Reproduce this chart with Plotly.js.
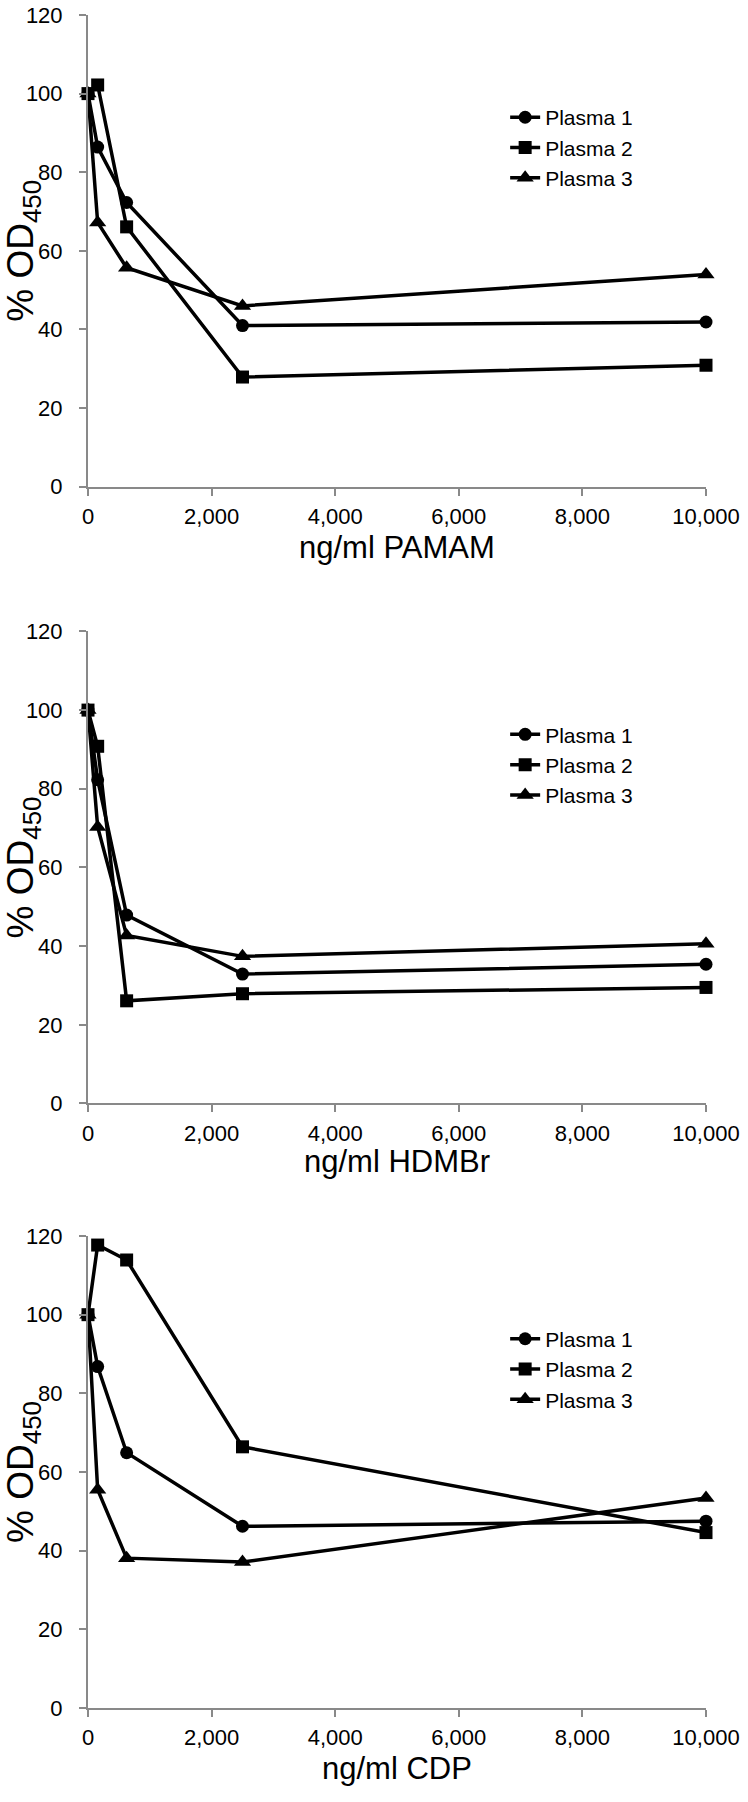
<!DOCTYPE html>
<html>
<head>
<meta charset="utf-8">
<script src="https://cdn.plot.ly/plotly-3.0.1.min.js"></script>
<style>
  html, body { margin: 0; padding: 0; background: #fff; }
  #chart { width: 748px; height: 1802px; }
</style>
</head>
<body>
<div id="chart"></div>
<script>
// ---- data ----
const concentrations = [0, 156.25, 625, 2500, 10000];
const seriesNames = ["Plasma 1", "Plasma 2", "Plasma 3"];
const xTitles = ["ng/ml PAMAM", "ng/ml HDMBr", "ng/ml CDP"];
const yTitle = "% OD<sub>450</sub>";
const xTickVals = [0, 2000, 4000, 6000, 8000, 10000];
const yTickVals = [0, 20, 40, 60, 80, 100, 120];

const pamamPlasma1 = [100, 86.4, 72.3, 41.0, 41.9];
const pamamPlasma2 = [100, 102.2, 66.1, 27.9, 30.9];
const pamamPlasma3 = [100, 67.2, 55.7, 46.0, 54.0];

const hdmbrPlasma1 = [100, 82.3, 47.9, 32.9, 35.4];
const hdmbrPlasma2 = [100, 90.8, 26.1, 27.9, 29.5];
const hdmbrPlasma3 = [100, 70.3, 42.7, 37.4, 40.6];

const cdpPlasma1 = [100, 86.8, 64.9, 46.2, 47.5];
const cdpPlasma2 = [100, 117.7, 113.9, 66.4, 44.6];
const cdpPlasma3 = [100, 55.5, 38.1, 37.1, 53.4];

const panels = [
  [pamamPlasma1, pamamPlasma2, pamamPlasma3],
  [hdmbrPlasma1, hdmbrPlasma2, hdmbrPlasma3],
  [cdpPlasma1, cdpPlasma2, cdpPlasma3]
];

// ---- styles ----
const FONT = "Liberation Sans, Arial, sans-serif";
const symbols = ["circle", "square", "triangle-up"];
const sizes = [13, 13, 15];
const drawOrder = [0, 2, 1]; // square drawn last (on top) as in reference
const axisGrey = "#898989";

const traces = [];
panels.forEach((vals, p) => {
  const sfx = p === 0 ? "" : String(p + 1);
  drawOrder.forEach(s => {
    traces.push({
      type: "scatter",
      mode: "lines+markers",
      x: concentrations,
      y: vals[s],
      name: seriesNames[s],
      xaxis: "x" + sfx,
      yaxis: "y" + sfx,
      legend: "legend" + sfx,
      legendrank: s + 1,
      cliponaxis: false,
      line: { color: "#000", width: 3.5 },
      marker: { symbol: symbols[s], size: sizes[s], color: "#000", line: { width: 0 } },
      hoverinfo: "x+y+name"
    });
  });
});

const domains = [[0.72138, 1.0], [0.35706, 0.63591], [0.0, 0.27879]];
const xTitleShift = [-61, -58, -60];
const legendY = [0.9515, 0.5870, 0.2300];

const layout = {
  width: 748,
  height: 1802,
  margin: { l: 88, r: 42, t: 15, b: 94 },
  paper_bgcolor: "#fff",
  plot_bgcolor: "#fff",
  font: { family: FONT, size: 22, color: "#000" },
  showlegend: true,
  annotations: []
};

for (let p = 0; p < 3; p++) {
  const sfx = p === 0 ? "" : String(p + 1);
  layout["xaxis" + sfx] = {
    anchor: "y" + sfx,
    domain: [0, 1],
    range: [0, 10000],
    tickvals: xTickVals,
    tickformat: ",d",
    ticks: "outside",
    ticklen: 7,
    tickwidth: 2,
    tickcolor: axisGrey,
    showline: true,
    linecolor: axisGrey,
    linewidth: 2,
    showgrid: false,
    zeroline: false,
    ticklabelstandoff: 2,
    tickfont: { family: FONT, size: 22, color: "#000" },
    automargin: false
  };
  layout["yaxis" + sfx] = {
    anchor: "x" + sfx,
    domain: domains[p],
    range: [0, 120],
    tickvals: yTickVals,
    ticks: "outside",
    ticklen: 7,
    tickwidth: 2,
    tickcolor: axisGrey,
    showline: true,
    linecolor: axisGrey,
    linewidth: 2,
    showgrid: false,
    zeroline: false,
    ticklabelstandoff: 12,
    tickfont: { family: FONT, size: 22, color: "#000" },
    title: { text: yTitle, font: { family: FONT, size: 37, color: "#000" }, standoff: 0 },
    automargin: false
  };
  layout["legend" + sfx] = {
    x: 0.675,
    y: legendY[p],
    xanchor: "left",
    yanchor: "top",
    bgcolor: "rgba(0,0,0,0)",
    borderwidth: 0,
    font: { family: FONT, size: 21, color: "#000" },
    traceorder: "normal",
    itemwidth: 30
  };
  // x-axis title as annotation for exact placement under the tick labels
  layout.annotations.push({
    text: xTitles[p],
    xref: "x" + sfx + " domain",
    yref: "y" + sfx + " domain",
    x: 0.5,
    y: 0,
    xanchor: "center",
    yanchor: "middle",
    yshift: xTitleShift[p],
    showarrow: false,
    font: { family: FONT, size: 31, color: "#000" }
  });
}

Plotly.newPlot("chart", traces, layout, { displayModeBar: false, staticPlot: true });
</script>
</body>
</html>
